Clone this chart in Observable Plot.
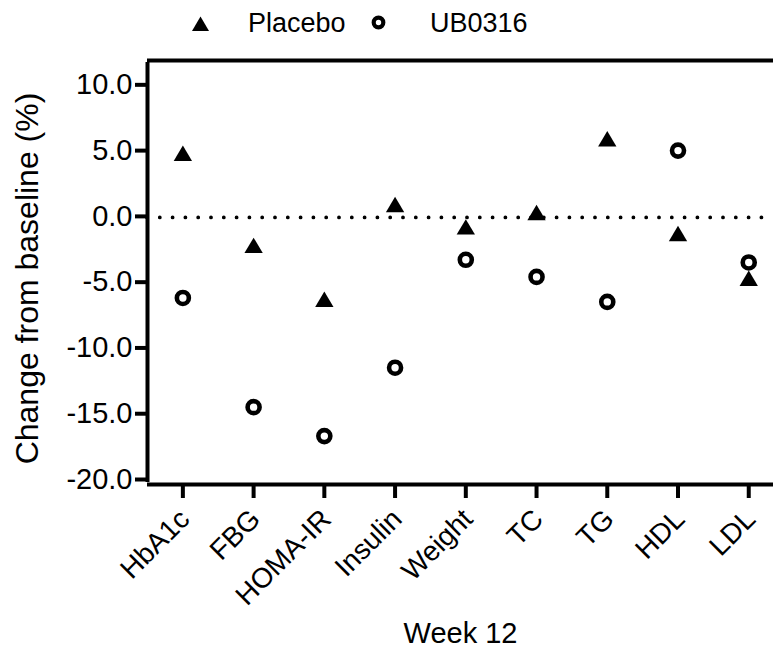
<!DOCTYPE html>
<html><head><meta charset="utf-8">
<script src="https://cdn.jsdelivr.net/npm/d3@7"></script>
<script src="https://cdn.jsdelivr.net/npm/@observablehq/plot@0.6"></script>
<style>
body{margin:0;background:#fff;font-family:"Liberation Sans",Arial,sans-serif}
#wrap{position:relative;width:773px;height:651px;overflow:hidden}
#legend{position:absolute;top:0;left:0}
</style></head>
<body><div id="wrap"></div>
<script>
const categories = ["HbA1c","FBG","HOMA-IR","Insulin","Weight","TC","TG","HDL","LDL"];
const placebo = [4.8,-2.2,-6.3,0.9,-0.8,0.3,5.9,-1.3,-4.7];
const ub0316 = [-6.2,-14.5,-16.7,-11.5,-3.3,-4.6,-6.5,5.0,-3.5];
const seriesNames = ["Placebo","UB0316"];
const yTicks = [-20,-15,-10,-5,0,5,10];
const yDomain = [-20.38, 11.85];
const xDomain = [-0.5, 8.35];
const xLabel = "Week 12";
const yLabel = "Change from baseline (%)";

const placeboRows = categories.map((c,i)=>({i, cat:c, value:placebo[i], series:seriesNames[0]}));
const ubRows = categories.map((c,i)=>({i, cat:c, value:ub0316[i], series:seriesNames[1]}));

// triangle centred on its bounding box (as in the reference software)
const boxTriangle = {
  draw(ctx, size) {
    const s = Math.sqrt(size) * 1.52, h = s * 0.84;
    ctx.moveTo(0, -h / 2);
    ctx.lineTo(s / 2, h / 2);
    ctx.lineTo(-s / 2, h / 2);
    ctx.closePath();
  }
};

const font = '"Liberation Sans", Arial, sans-serif';
const xTicks = d3.range(categories.length);
const chart = Plot.plot({
  width: 773, height: 651,
  marginLeft: 147, marginRight: 0, marginTop: 60, marginBottom: 167,
  style: {fontFamily: font, fontSize: "28px", color: "#000", background: "#fff", overflow: "visible"},
  x: {type: "linear", domain: xDomain},
  y: {domain: yDomain},
  marks: [
    Plot.ruleY([0], {stroke: "#000", strokeWidth: 3.8, strokeDasharray: "0 12.8", strokeLinecap: "round", dy: 1}),
    Plot.ruleY([yDomain[1]], {stroke: "#000", strokeWidth: 4}),
    Plot.ruleY([yDomain[0]], {stroke: "#000", strokeWidth: 4}),
    Plot.ruleX([xDomain[0]], {stroke: "#000", strokeWidth: 4, y1: yDomain[0], y2: yDomain[1], insetTop: -2, insetBottom: -2}),
    Plot.dot(placeboRows, {x: "i", y: "value", symbol: boxTriangle, fill: "#000", r: 6.8}),
    Plot.dot(ubRows, {x: "i", y: "value", symbol: "circle", stroke: "#000", fill: "none", strokeWidth: 4.6, r: 6}),
    Plot.axisY({ticks: yTicks, tickFormat: d => d.toFixed(1), tickSize: 12, tickPadding: 3, strokeWidth: 4, fontSize: 29, label: null}),
    Plot.axisX({ticks: xTicks, tickFormat: () => "", tickSize: 14, strokeWidth: 4, label: null}),
    Plot.axisX({ticks: xTicks, tickFormat: i => categories[i], tickRotate: -45, tickSize: 0, tickPadding: 30, dx: 2, fontSize: 28, label: null}),
    Plot.text([xLabel], {frameAnchor: "bottom", dy: 158, fontSize: 29}),
    Plot.text([yLabel], {frameAnchor: "left", textAnchor: "middle", rotate: -90, dx: -120, dy: 6, fontSize: 32})
  ]
});
document.getElementById("wrap").appendChild(chart);

// legend (real text) above the plot
const ns = "http://www.w3.org/2000/svg";
const lg = document.createElementNS(ns, "svg");
lg.setAttribute("id", "legend");
lg.setAttribute("width", 773);
lg.setAttribute("height", 48);
lg.innerHTML = `
<path d="M200.5,16.5 L209,31 L192,31 Z" fill="#000"/>
<text x="248" y="32" font-family='Liberation Sans, Arial, sans-serif' font-size="27">${seriesNames[0]}</text>
<circle cx="378.5" cy="22.5" r="4.8" fill="none" stroke="#000" stroke-width="4.2"/>
<text x="430" y="32" font-family='Liberation Sans, Arial, sans-serif' font-size="27">${seriesNames[1]}</text>`;
document.getElementById("wrap").appendChild(lg);
</script>
</body></html>
